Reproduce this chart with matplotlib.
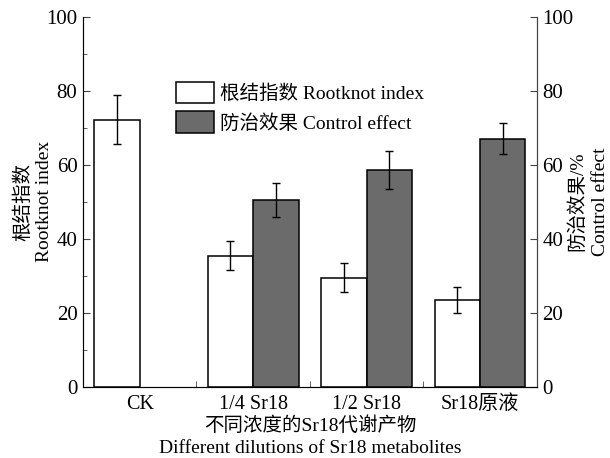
import numpy as np
import matplotlib
matplotlib.use("Agg")
import matplotlib.pyplot as plt
from matplotlib.ticker import MultipleLocator, FixedLocator

plt.rcParams['font.family'] = ['Liberation Serif', 'Noto Sans CJK SC']
plt.rcParams['font.size'] = 14

# data
categories = ["CK", "1/4 Sr18", "1/2 Sr18", "Sr18原液"]
rootknot = [72.2, 35.4, 29.5, 23.4]
rootknot_err = [6.6, 3.9, 4.0, 3.5]
control = [np.nan, 50.5, 58.5, 67.1]
control_err = [np.nan, 4.6, 5.1, 4.3]

x = np.arange(len(categories))
w = 0.4
grey = "#6b6b6b"
spine_c = "#444444"

fig = plt.figure(figsize=(6.1, 4.58), dpi=100)
ax = fig.add_axes([0.136, 0.156, 0.744, 0.807])

ax.bar(x, rootknot, width=-w, align="edge", color="white", edgecolor="black",
       linewidth=1.1, label="根结指数 Rootknot index")
ax.errorbar(x - w / 2, rootknot, yerr=rootknot_err, fmt="none", ecolor="black",
            elinewidth=1.0, capsize=2.6, capthick=1.0)
ax.bar(x, control, width=w, align="edge", color=grey, edgecolor="black",
       linewidth=1.1, label="防治效果 Control effect")
ax.errorbar(x + w / 2, control, yerr=control_err, fmt="none", ecolor="black",
            elinewidth=1.0, capsize=2.6, capthick=1.0)

ax.set_xlim(-0.5, 3.5)
ax.set_ylim(0, 100)
ax.set_xticks(x)
ax.set_xticklabels(categories, fontsize=14.5)
ax.xaxis.set_minor_locator(FixedLocator([0.5, 1.5, 2.5]))
ax.tick_params(axis="x", which="major", length=0, pad=6)
ax.tick_params(axis="x", which="minor", direction="in", length=4, color=spine_c)
ax.yaxis.set_major_locator(MultipleLocator(20))
ax.yaxis.set_minor_locator(MultipleLocator(10))
ax.tick_params(axis="y", which="both", direction="in", color=spine_c, pad=4,
               labelsize=15)
ax.tick_params(axis="y", which="major", length=5)
ax.tick_params(axis="y", which="minor", length=3)
ax.spines["top"].set_visible(False)
for s in ["left", "bottom", "right"]:
    ax.spines[s].set_color(spine_c)

ax2 = ax.twinx()
ax2.set_ylim(0, 100)
ax2.yaxis.set_major_locator(MultipleLocator(20))
ax2.tick_params(axis="y", direction="in", length=5, color=spine_c, pad=4,
                labelsize=15)
ax2.spines["top"].set_visible(False)
ax2.spines["right"].set_color(spine_c)

ax.set_ylabel("根结指数\nRootknot index", linespacing=1.35)
ax.yaxis.set_label_coords(-0.065, 0.5)
ax2.set_ylabel("防治效果/%\nControl effect", rotation=90, linespacing=1.42)
ax2.yaxis.set_label_coords(1.069, 0.5)
ax.set_xlabel("不同浓度的Sr18代谢产物\nDifferent dilutions of Sr18 metabolites",
              linespacing=1.35, labelpad=2)

ax.legend(loc="upper left", bbox_to_anchor=(0.183, 0.85), frameon=False,
          handlelength=1.95, handleheight=1.3, handletextpad=0.35,
          labelspacing=0.42, borderpad=0, fontsize=14)

fig.savefig("out.png", dpi=100)
